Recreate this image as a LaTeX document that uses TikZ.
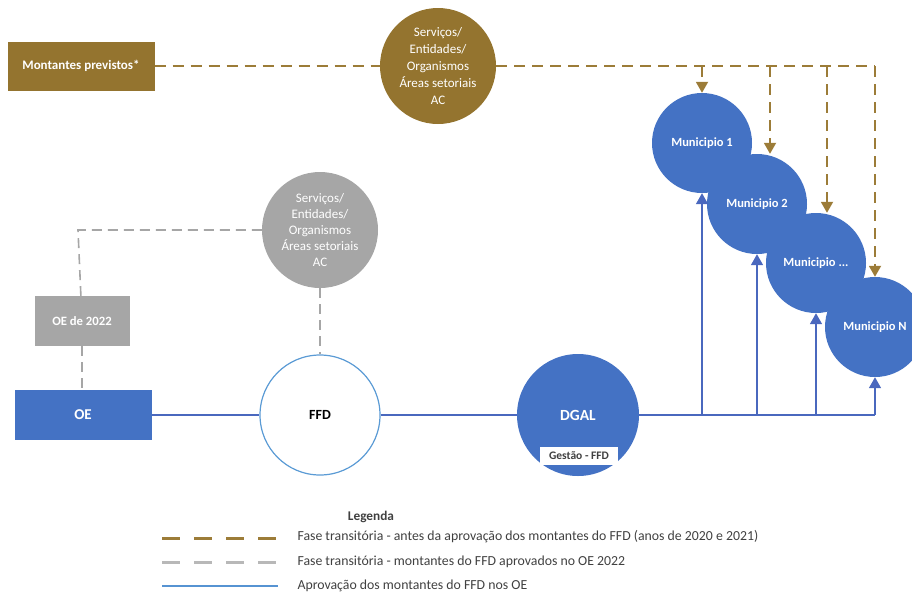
\documentclass[tikz,border=0pt]{standalone}
\usepackage{fontspec}
\setmainfont{Carlito}
\usetikzlibrary{arrows.meta}

\definecolor{ouro}{HTML}{94742F}
\definecolor{ourolinha}{HTML}{9C7C38}
\definecolor{cinza}{HTML}{A6A6A6}
\definecolor{azul}{HTML}{4472C4}
\definecolor{azullinha}{HTML}{4A68BE}
\definecolor{azulclaro}{HTML}{5B9BD5}
\definecolor{texto}{HTML}{404040}

\tikzset{
  caixa/.style={rectangle, inner sep=0pt, text=white, font=\bfseries},
  roda/.style={circle, inner sep=0pt, align=center, text=white},
  muni/.style={roda, fill=azul, minimum size=100pt, font=\bfseries\fontsize{12.5}{14}\selectfont},
  tracoouro/.style={draw=ourolinha, line width=1.8pt, dash pattern=on 11pt off 7pt},
  tracocinza/.style={draw=cinza, line width=1.6pt, dash pattern=on 10pt off 6pt},
  linhaazul/.style={draw=azullinha, line width=1.5pt},
  seta/.style={-{Triangle[width=12pt,length=11pt]}},
  legtexto/.style={anchor=west, text=texto, font=\fontsize{13.8}{15}\selectfont},
}

\begin{document}
\begin{tikzpicture}[x=1pt, y=-1pt]
\useasboundingbox (0,0) rectangle (912,595);
\clip (0,0) rectangle (912,595);

%%   kw   (name)   (x, y)   {text}
    \node[caixa, fill=ouro, minimum width=147pt, minimum height=49pt,
          font=\bfseries\fontsize{13}{15}\selectfont] (prev) at (81, 66) {Montantes previstos*};
    \node[roda, fill=ouro, minimum size=116pt, font=\fontsize{13}{17}\selectfont]
          (srvA) at (438, 66) {Serviços/\\Entidades/\\Organismos\\Áreas setoriais\\AC};
    \node[roda, fill=cinza, minimum size=116pt, font=\fontsize{13}{16}\selectfont]
          (srvB) at (320, 230) {Serviços/\\Entidades/\\Organismos\\Áreas setoriais\\AC};
    \node[caixa, fill=cinza, minimum width=95pt, minimum height=50pt,
          font=\bfseries\fontsize{12.7}{14}\selectfont] (oe22) at (82, 321) {OE de 2022};
    \node[caixa, fill=azul, minimum width=137pt, minimum height=50pt,
          font=\bfseries\fontsize{15}{17}\selectfont] (oe) at (83, 415) {OE};
    \node[circle, draw=azulclaro, line width=1.2pt, fill=white, minimum size=120pt,
          inner sep=0pt, font=\bfseries\fontsize{14}{16}\selectfont] (ffd) at (320, 415) {FFD};
    \node[roda, fill=azul, minimum size=122pt, font=\bfseries\fontsize{15.5}{17}\selectfont]
          (dgal) at (578, 415) {\raisebox{-3pt}{DGAL}};
    \node[rectangle, fill=white, inner sep=0pt, minimum width=78pt, minimum height=18pt,
          text=texto, font=\bfseries\fontsize{11.5}{13}\selectfont] (gest) at (579, 456) {Gestão - FFD};

    \node[muni] (m1) at (702, 143) {Municipio 1};
    \node[muni] (m2) at (757, 204) {Municipio 2};
    \node[muni] (m3) at (816, 263) {Municipio ...};
    \node[muni] (mN) at (875, 327) {Municipio N};

    % fase transitoria (2020 e 2021)
    \coordinate (d1) at (702, 66);
    \coordinate (d2) at (770, 66);
    \coordinate (d3) at (827, 66);
    \coordinate (d4) at (875, 66);
    \draw[tracoouro] (prev) -- (srvA);
    \draw[tracoouro] (srvA) -- (d4);
    \draw[tracoouro, seta] (d1) -- (m1.north);
    \draw[tracoouro, seta] (d2) -- (d2 |- m2.north);
    \draw[tracoouro, seta] (d3) -- (d3 |- m3.north);
    \draw[tracoouro, seta] (d4) -- (mN.north);

    % fase transitoria (OE 2022)
    \coordinate (g1) at (78, 230);
    \draw[tracocinza] (srvB) -- (g1) -- (oe22);
    \draw[tracocinza] (oe22) -- (oe22 |- oe.north);
    \draw[tracocinza] (srvB) -- (ffd);

    % aprovacao nos OE
    \coordinate (b1) at (702, 415);
    \coordinate (b2) at (757, 415);
    \coordinate (b3) at (816, 415);
    \coordinate (b4) at (875, 415);
    \draw[linhaazul] (oe) -- (ffd);
    \draw[linhaazul] (ffd) -- (dgal);
    \draw[linhaazul, line width=2pt] (dgal) -- (b4);
    \draw[linhaazul, seta] (b1) -- (m1.south);
    \draw[linhaazul, seta] (b2) -- (m2.south);
    \draw[linhaazul, seta] (b3) -- (m3.south);
    \draw[linhaazul, seta] (b4) -- (mN.south);

    % legenda
    \node[text=texto, font=\bfseries\fontsize{13.3}{15}\selectfont] (leg) at (371, 517) {Legenda};
    \coordinate (l1a) at (162, 538);
    \coordinate (l1b) at (278, 538);
    \coordinate (l2a) at (162, 562);
    \coordinate (l2b) at (278, 562);
    \coordinate (l3a) at (162, 586);
    \coordinate (l3b) at (278, 586);
    \draw[draw=ourolinha, line width=3pt, dash pattern=on 18pt off 14pt] (l1a) -- (l1b);
    \draw[draw=cinza!80, line width=3pt, dash pattern=on 18pt off 14pt] (l2a) -- (l2b);
    \draw[draw=azulclaro!80!azul, line width=2.6pt] (l3a) -- (l3b);
    \node[legtexto] (t1) at (294, 537) {Fase transitória - antes da aprovação dos montantes do FFD (anos de 2020 e 2021)};
    \node[legtexto] (t2) at (294, 562) {Fase transitória - montantes do FFD aprovados no OE 2022};
    \node[legtexto] (t3) at (294, 586) {Aprovação dos montantes do FFD nos OE};
\end{tikzpicture}
\end{document}
